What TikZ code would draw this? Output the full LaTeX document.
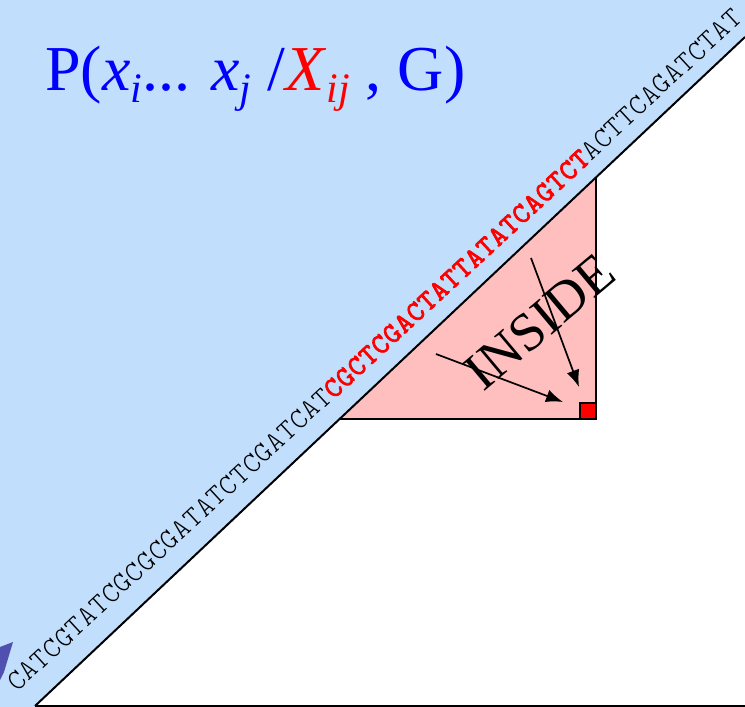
\documentclass[tikz,border=0pt]{standalone}
\usepackage{fontspec}
\setmainfont{Liberation Serif}
\newfontfamily\monof[Extension=.otf,LetterSpace=2.7]{lmmonolt10-regular}
\newfontfamily\monobf[Extension=.otf,LetterSpace=2.7,FakeBold=2.5]{lmmono10-regular}
\usetikzlibrary{arrows.meta}
\definecolor{bluebg}{RGB}{193,223,252}
\definecolor{pinkbg}{RGB}{255,191,191}
\definecolor{arrowblue}{RGB}{80,80,176}
\newcommand\subx[1]{\raisebox{-0.2em}{\fontsize{42}{42}\selectfont\itshape #1}}
\begin{document}
\begin{tikzpicture}[x=1pt,y=-1pt,line join=miter]
\tikzset{
  edge/.style={draw=black,line width=2pt},
  pointer/.style={draw=black,line width=1.7pt,-{Latex[length=17pt,width=13pt]}},
}
\useasboundingbox (0,0) rectangle (745,707);
\fill[white] (0,0) rectangle (745,707);
\coordinate (dl) at (35,706);
\coordinate (dr) at (745,37);
\coordinate (br) at (745,706);
\coordinate (tl) at (340,419);
\coordinate (tr) at (596,419);
\coordinate (tt) at (596,178);
% blue region
\fill[bluebg] (0,0) -- (745,0) -- (dr) -- (dl) -- (36,707) -- (0,707) -- cycle;
% pink triangle
\fill[pinkbg] (tl) -- (tr) -- (tt) -- cycle;
\draw[edge] (tl) -- (tr) -- (tt);
% diagonal and bottom edge
\draw[edge] (dl) -- (dr);
\draw[edge] (dl) -- (br);
% red square
\filldraw[fill=red,draw=black,line width=1.5pt] (580,403) rectangle (596,419);
% blue fragment bottom-left
\fill[arrowblue] (0,647) -- (13,642) -- (4,672) -- (0,680) -- cycle;
% title
\node[anchor=base west,inner sep=0,text=blue,font=\fontsize{64}{64}\selectfont] (title) at (45,90)
  {P(\textit{x}\subx{i}... \textit{x}\subx{j} /\textcolor{red}{\textit{X}\subx{ij}} , G)};
% sequence
\node[anchor=base west,inner sep=0,rotate=42.8,font=\monof\fontsize{29}{29}\selectfont] (seq) at (17,693)
  {CATCGTATCGCGCGATATCTCGATCAT\textcolor{red}{\monobf CGCTCGACTATTATATCAGTCT}ACTTCAGATCTAT};
% INSIDE
\node[inner sep=0,rotate=40,font=\fontsize{54}{54}\selectfont] (inside) at (540,322) {INSIDE};
\coordinate (a1s) at (436,354);
\coordinate (a1e) at (563,402);
\coordinate (a2s) at (531,258);
\coordinate (a2e) at (579,387);
\draw[pointer] (a1s) -- (a1e);
\draw[pointer] (a2s) -- (a2e);
\end{tikzpicture}
\end{document}
